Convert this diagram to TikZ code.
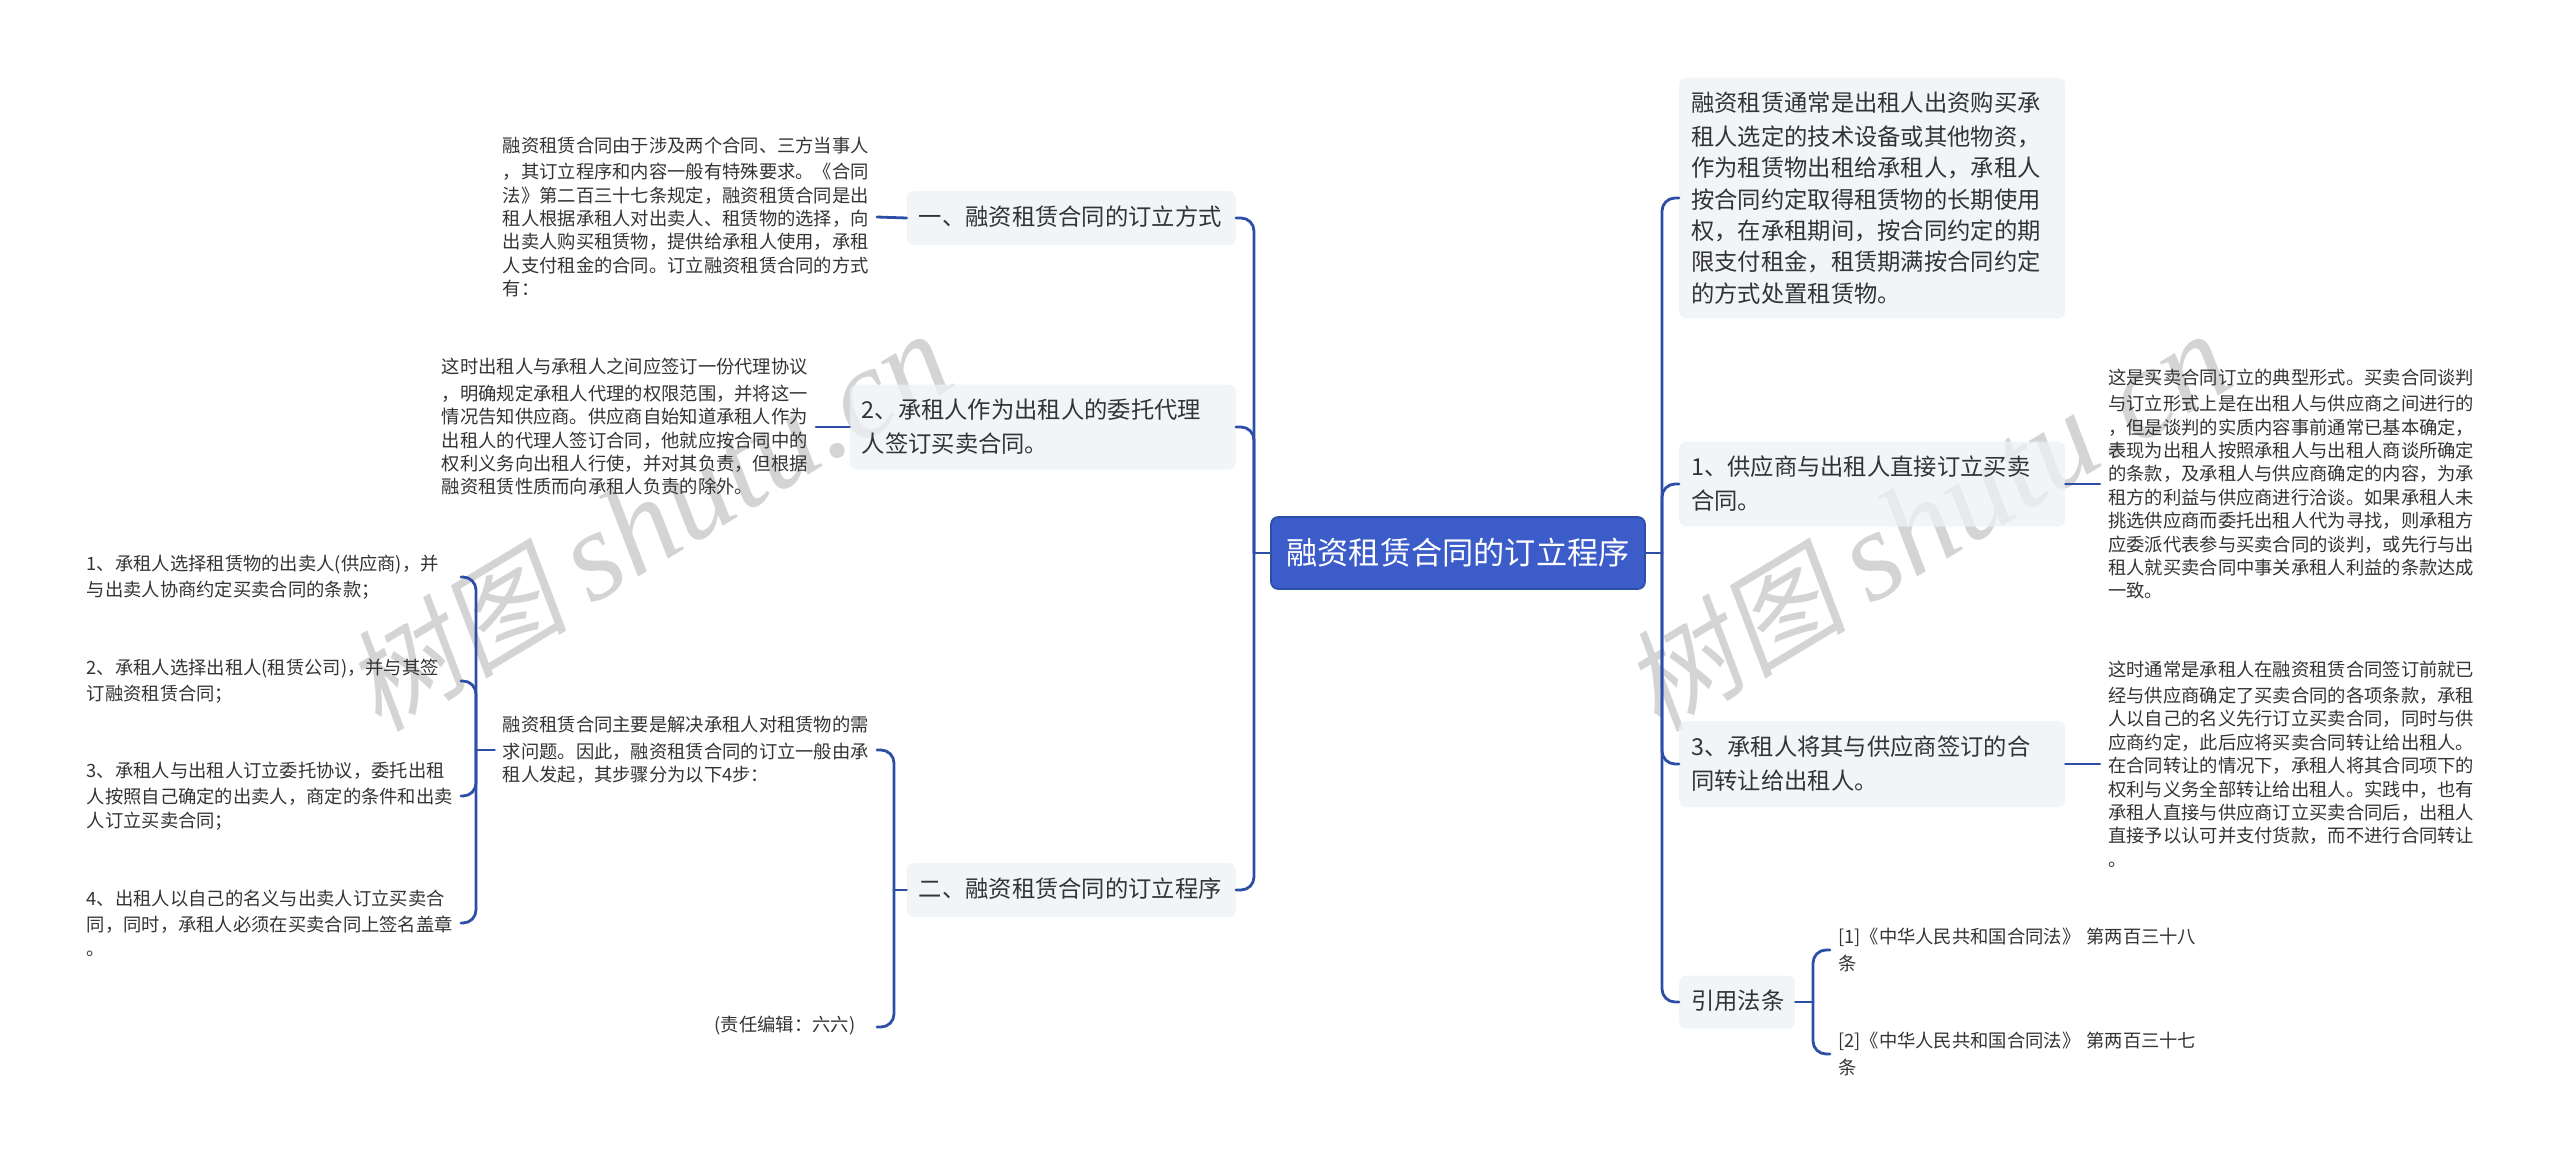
\documentclass[tikz,border=0pt]{standalone}
\usepackage{fontspec}
\setmainfont{Noto Sans CJK SC}
\newfontfamily\wmcjk[FakeSlant=0.18]{Noto Sans CJK SC}
\newfontfamily\wmlat{Liberation Serif}
\newcommand{\wmtext}{{\wmcjk\fontsize{112}{112}\selectfont 树图}\hspace{24pt}{\wmlat\itshape\fontsize{128}{128}\selectfont shutu.cn}}
\definecolor{linec}{HTML}{2C4EA6}
\definecolor{boxc}{HTML}{EEF1F5}
\definecolor{rootc}{HTML}{3B5CC9}
\definecolor{txtc}{HTML}{333333}
\definecolor{wmc}{HTML}{D4D4D4}
\tikzset{
  conn/.style={draw=linec,line width=2.8pt,line cap=round},
  curved/.style={conn,rounded corners=13pt},
  rootbox/.style={draw=linec,line width=1.6pt,fill=rootc,rounded corners=7pt,text=white,inner sep=0pt,minimum width=374pt,minimum height=72pt,font=\fontsize{31.2}{40}\selectfont},
  topic/.style={fill=boxc,fill opacity=0.75,text opacity=1,rounded corners=7pt,text=txtc,anchor=west,inner ysep=0pt,inner xsep=12pt,align=left,font=\fontsize{23.3}{31.4}\selectfont,execute at begin node={\vspace*{2.5pt}}},
  leaf/.style={text=txtc,anchor=west,inner ysep=0pt,inner xsep=8pt,align=left,text width=366pt,font=\fontsize{18.3}{23.4}\selectfont,execute at begin node={\vspace*{3pt}}},
  wmark/.style={text=wmc,rotate=31,inner sep=0pt},
}
\begin{document}
\begin{tikzpicture}[x=1pt,y=-1pt]
\useasboundingbox (0,0) rectangle (2560,1165);
% watermarks
\node[wmark] (wm1) at (648,522) {\wmtext};
\node[wmark] (wm2) at (1927,522) {\wmtext};
% spines
\coordinate (sr) at (1662,553);
\coordinate (sl) at (1254,553);
\coordinate (s2) at (894,890);
\coordinate (s3) at (476,750);
\coordinate (s4) at (1813,1002);
% root
\node[rootbox] (root) at (1458,553) {融资租赁合同的订立程序};
% right topics
\node[topic,text width=362pt,minimum height=241pt] (r1) at (1679,198) {融资租赁通常是出租人出资购买承\\租人选定的技术设备或其他物资，\\作为租赁物出租给承租人，承租人\\按合同约定取得租赁物的长期使用\\权，在承租期间，按合同约定的期\\限支付租金，租赁期满按合同约定\\的方式处置租赁物。};
\node[topic,text width=362pt,minimum height=85pt] (r2) at (1679,484) {1、供应商与出租人直接订立买卖\\合同。};
\node[topic,text width=362pt,minimum height=86pt] (r3) at (1679,764) {3、承租人将其与供应商签订的合\\同转让给出租人。};
\node[topic,text width=92pt,minimum height=53pt] (r4) at (1679,1002) {引用法条};
% right leaves
\node[leaf] (r2a) at (2100,484) {这是买卖合同订立的典型形式。买卖合同谈判\\与订立形式上是在出租人与供应商之间进行的\\，但是谈判的实质内容事前通常已基本确定，\\表现为出租人按照承租人与出租人商谈所确定\\的条款，及承租人与供应商确定的内容，为承\\租方的利益与供应商进行洽谈。如果承租人未\\挑选供应商而委托出租人代为寻找，则承租方\\应委派代表参与买卖合同的谈判，或先行与出\\租人就买卖合同中事关承租人利益的条款达成\\一致。};
\node[leaf] (r3a) at (2100,764) {这时通常是承租人在融资租赁合同签订前就已\\经与供应商确定了买卖合同的各项条款，承租\\人以自己的名义先行订立买卖合同，同时与供\\应商约定，此后应将买卖合同转让给出租人。\\在合同转让的情况下，承租人将其合同项下的\\权利与义务全部转让给出租人。实践中，也有\\承租人直接与供应商订立买卖合同后，出租人\\直接予以认可并支付货款，而不进行合同转让\\。};
\node[leaf] (r4a) at (1830,950) {[1]《中华人民共和国合同法》 第两百三十八\\条};
\node[leaf] (r4b) at (1830,1054) {[2]《中华人民共和国合同法》 第两百三十七\\条};
% left topics
\node[topic,text width=305pt,minimum height=54pt,anchor=east] (l1) at (1236,218) {一、融资租赁合同的订立方式};
\node[topic,text width=362pt,minimum height=85pt,anchor=east] (l2) at (1236,427) {2、承租人作为出租人的委托代理\\人签订买卖合同。};
\node[topic,text width=305pt,minimum height=54pt,anchor=east] (l3) at (1236,890) {二、融资租赁合同的订立程序};
% left leaves
\node[leaf,anchor=east] (l1a) at (877,217) {融资租赁合同由于涉及两个合同、三方当事人\\，其订立程序和内容一般有特殊要求。《合同\\法》第二百三十七条规定，融资租赁合同是出\\租人根据承租人对出卖人、租赁物的选择，向\\出卖人购买租赁物，提供给承租人使用，承租\\人支付租金的合同。订立融资租赁合同的方式\\有：};
\node[leaf,anchor=east] (l2a) at (816,427) {这时出租人与承租人之间应签订一份代理协议\\，明确规定承租人代理的权限范围，并将这一\\情况告知供应商。供应商自始知道承租人作为\\出租人的代理人签订合同，他就应按合同中的\\权利义务向出租人行使，并对其负责，但根据\\融资租赁性质而向承租人负责的除外。};
\node[leaf,anchor=east] (l3a) at (877,750) {融资租赁合同主要是解决承租人对租赁物的需\\求问题。因此，融资租赁合同的订立一般由承\\租人发起，其步骤分为以下4步：};
\node[leaf,anchor=east,text width=140pt,inner xsep=22pt] (l3b) at (877,1027) {(责任编辑：六六)};
\node[leaf,anchor=east] (l4a) at (461,577) {1、承租人选择租赁物的出卖人(供应商)，并\\与出卖人协商约定买卖合同的条款；};
\node[leaf,anchor=east] (l4b) at (461,681) {2、承租人选择出租人(租赁公司)，并与其签\\订融资租赁合同；};
\node[leaf,anchor=east] (l4c) at (461,796) {3、承租人与出租人订立委托协议，委托出租\\人按照自己确定的出卖人，商定的条件和出卖\\人订立买卖合同；};
\node[leaf,anchor=east] (l4d) at (461,923) {4、出租人以自己的名义与出卖人订立买卖合\\同，同时，承租人必须在买卖合同上签名盖章\\。};
% connectors: root to right
\draw[conn] (root.east) -- (sr);
\foreach \n in {r1,r2,r3,r4} \draw[curved] (sr) -- (sr|-\n.west) -- (\n.west);
\draw[conn] (r2.east) -- (r2a.west);
\draw[conn] (r3.east) -- (r3a.west);
\draw[conn] (r4.east) -- (s4);
\foreach \n in {r4a,r4b} \draw[curved] (s4) -- (s4|-\n.west) -- (\n.west);
% connectors: root to left
\draw[conn] (root.west) -- (sl);
\foreach \n in {l1,l2,l3} \draw[curved] (sl) -- (sl|-\n.east) -- (\n.east);
\draw[conn] (l1.west) -- (l1a.east);
\draw[conn] (l2.west) -- (l2a.east);
\draw[conn] (l3.west) -- (s2);
\foreach \n in {l3a,l3b} \draw[curved] (s2) -- (s2|-\n.east) -- (\n.east);
\draw[conn] (l3a.west) -- (s3);
\foreach \n in {l4a,l4b,l4c,l4d} \draw[curved] (s3) -- (s3|-\n.east) -- (\n.east);
\end{tikzpicture}
\end{document}
